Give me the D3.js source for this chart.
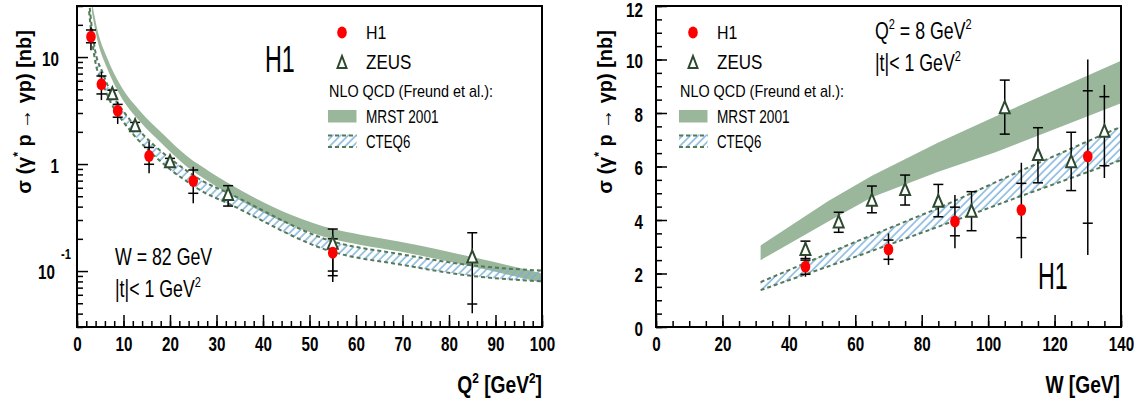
<!DOCTYPE html>
<html><head><meta charset="utf-8">
<script src="https://cdn.jsdelivr.net/npm/d3@7"></script>
<style>body{margin:0;background:#fff}svg{display:block}</style>
</head><body>
<script>
// ---------------- DATA ----------------
// Left panel: sigma vs Q^2 (W = 82 GeV)
const h1Q2      = [3, 5.25, 8.75, 15.5, 25, 55];
const h1SigQ    = [15.5, 5.56, 3.15, 1.19, 0.695, 0.148];
const h1StatHiQ = [17.9, 6.65, 3.61, 1.43, 0.88, 0.20];
const h1StatLoQ = [13.6, 4.52, 2.74, 0.995, 0.533, 0.10];
const h1TotHiQ  = [19.0, 7.29, 3.83, 1.62, 0.945, 0.215];
const h1TotLoQ  = [11.6, 3.96, 2.37, 0.82, 0.43, 0.079];

const zQ2       = [7.6, 12.5, 20, 32.5, 55, 85];
const zSigQ     = [4.48, 2.26, 1.04, 0.514, 0.18, 0.134];
const zStatHiQ  = [4.9, 2.45, 1.13, 0.628, 0.247, 0.228];
const zStatLoQ  = [4.1, 2.08, 0.96, 0.405, 0.0905, 0.0492];
const zTotHiQ   = [4.9, 2.45, 1.13, 0.628, 0.247, 0.228];
const zTotLoQ   = [4.1, 2.08, 0.96, 0.405, 0.0905, 0.0403];

const mrstQ2    = [3.2, 4.3, 6.5, 9.3, 13.6, 18.6, 23.7, 28.7, 32.5, 55, 61, 69.5, 85, 100];
const mrstHiQ   = [33.0, 18.7, 9.8, 5.5, 3.12, 1.89, 1.18, 0.84, 0.665, 0.248, 0.218, 0.188, 0.135, 0.095];
const mrstLoQ   = [26.5, 14.9, 7.8, 4.38, 2.48, 1.50, 0.94, 0.67, 0.53, 0.199, 0.175, 0.152, 0.110, 0.078];

const cteqQ2    = [2.6, 3.2, 3.94, 5.4, 7.2, 10, 12.9, 16.5, 20.8, 23.7, 26.5, 32.5, 55, 69.5, 85, 100];
const cteqHiQ   = [33.6, 18.7, 11.3, 7.34, 4.77, 3.10, 2.17, 1.51, 1.06, 0.86, 0.715, 0.537, 0.189, 0.144, 0.113, 0.101];
const cteqLoQ   = [26.8, 14.9, 9.0, 5.85, 3.80, 2.47, 1.73, 1.21, 0.84, 0.685, 0.570, 0.428, 0.151, 0.115, 0.090, 0.080];

// Right panel: sigma vs W (Q^2 = 8 GeV^2)
const h1W       = [45, 70, 90, 110, 130];
const h1SigW    = [2.25, 2.90, 3.94, 4.37, 6.37];
const h1StatHiW = [2.50, 3.25, 4.48, 5.37, 8.83];
const h1StatLoW = [1.97, 2.53, 3.41, 3.34, 3.88];
const h1TotHiW  = [2.53, 3.50, 4.93, 6.14, 10.0];
const h1TotLoW  = [1.88, 2.32, 2.94, 2.57, 2.69];

const zW        = [45, 55, 65, 75, 85, 95, 105, 115, 125, 135];
const zSigW     = [2.88, 3.91, 4.72, 5.12, 4.68, 4.31, 8.18, 6.43, 6.16, 7.30];
const zStatHiW  = [3.21, 4.29, 5.27, 5.68, 5.33, 5.06, 9.23, 7.45, 7.28, 8.61];
const zStatLoW  = [2.56, 3.54, 4.27, 4.56, 4.12, 3.60, 7.21, 5.39, 5.10, 6.03];
const zTotHiW   = [3.21, 4.29, 5.27, 5.68, 5.33, 5.06, 9.23, 7.45, 7.28, 9.05];
const zTotLoW   = [2.56, 3.54, 4.27, 4.56, 4.12, 3.60, 7.21, 5.39, 5.10, 5.57];

const mrstW     = [31.5, 52, 65, 85, 102, 140];
const mrstHiW   = [3.05, 4.72, 5.65, 6.9, 7.86, 9.95];
const mrstLoW   = [2.50, 3.95, 4.85, 5.8, 6.52, 8.36];

const cteqW     = [31.5, 60, 85, 110, 140];
const cteqHiW   = [1.68, 3.18, 4.44, 5.85, 7.49];
const cteqLoW   = [1.38, 2.62, 3.75, 4.90, 6.24];

// Ticks
const xTicksQ      = [0,10,20,30,40,50,60,70,80,90,100];
const xMinorQ      = d3.range(0, 101, 2);
const yTicksLog    = [0.1, 1, 10];
const yMinorLog    = [0.03,0.04,0.05,0.06,0.07,0.08,0.09,0.2,0.3,0.4,0.5,0.6,0.7,0.8,0.9,2,3,4,5,6,7,8,9,20,30];
const xTicksW      = [0,20,40,60,80,100,120,140];
const xMinorW      = d3.range(0, 141, 5);
const yTicksLin    = [0,2,4,6,8,10,12];
const yMinorLin    = d3.range(0, 12.01, 0.5);

// ---------------- STYLE ----------------
const FONT = "'Liberation Sans', Arial, Helvetica, sans-serif";
const C_MRST = "#9ab79b", C_EDGE = "#557a57", C_HATCH = "#78afdb", C_TRI = "#2c482e", C_DOT = "#ff0000";

const svg = d3.select("body").append("svg").attr("width",1141).attr("height",402);
const defs = svg.append("defs");
const pat = defs.append("pattern").attr("id","hatch").attr("patternUnits","userSpaceOnUse")
  .attr("width",5.5).attr("height",5.5).attr("patternTransform","rotate(45)");
pat.append("line").attr("x1",1).attr("y1",0).attr("x2",1).attr("y2",5.5)
  .attr("stroke",C_HATCH).attr("stroke-width",1.4);

function label(parent, x, y, parts, o) {
  const sx = o.sx || 1;
  const tr = `translate(${x},${y})` + (o.rot ? ` rotate(${o.rot})` : "") + ` scale(${sx},1)`;
  const t = parent.append("text").attr("transform", tr)
    .attr("font-family", FONT).attr("font-size", o.size)
    .attr("font-weight", o.weight || "normal")
    .attr("text-anchor", o.anchor || "start").attr("fill", "#000");
  let up = false;
  const sh = o.size * 0.42;
  parts.forEach(p => {
    const sup = Array.isArray(p);
    const s = t.append("tspan").text(sup ? p[0] : p);
    if (sup && !up) { s.attr("dy", -sh).attr("font-size", o.size * 0.62); up = true; }
    else if (!sup && up) { s.attr("dy", sh); up = false; }
  });
  return t;
}

function panel(cfg) {
  const {x, y, id} = cfg;
  const [x0, x1] = x.range(), [y0, y1] = y.range();
  const g = svg.append("g");
  defs.append("clipPath").attr("id", id).append("rect")
    .attr("x", x0).attr("y", y1).attr("width", x1 - x0).attr("height", y0 - y1);
  const pg = g.append("g").attr("clip-path", `url(#${id})`);

  // MRST band
  const bandM = cfg.mrst.x.map((v,i)=>({x:v, hi:cfg.mrst.hi[i], lo:cfg.mrst.lo[i]}));
  pg.append("path").datum(bandM).attr("fill", C_MRST)
    .attr("d", d3.area().x(d=>x(d.x)).y0(d=>y(d.lo)).y1(d=>y(d.hi)).curve(cfg.curve));
  // CTEQ band
  const bandC = cfg.cteq.x.map((v,i)=>({x:v, hi:cfg.cteq.hi[i], lo:cfg.cteq.lo[i]}));
  pg.append("path").datum(bandC).attr("fill", "url(#hatch)")
    .attr("d", d3.area().x(d=>x(d.x)).y0(d=>y(d.lo)).y1(d=>y(d.hi)).curve(cfg.curve));
  ["hi","lo"].forEach(k => pg.append("path").datum(bandC).attr("fill","none")
    .attr("stroke", C_EDGE).attr("stroke-width", 2).attr("stroke-dasharray","4,3")
    .attr("d", d3.line().x(d=>x(d.x)).y(d=>y(d[k])).curve(cfg.curve)));

  // error bars: line to total error, crossbars at statistical error
  function errs(set) {
    set.x.forEach((v,i) => {
      const px = x(v);
      pg.append("line").attr("x1",px).attr("x2",px)
        .attr("y1", y(set.totHi[i])).attr("y2", y(set.totLo[i]))
        .attr("stroke","#000").attr("stroke-width",1.5);
      [set.statHi[i], set.statLo[i]].forEach(e => {
        pg.append("line").attr("x1",px-5).attr("x2",px+5)
          .attr("y1", y(e)).attr("y2", y(e)).attr("stroke","#000").attr("stroke-width",1.5);
      });
    });
  }
  errs(cfg.zeus); errs(cfg.h1);
  // ZEUS triangles
  cfg.zeus.x.forEach((v,i) => {
    const px = x(v), py = y(cfg.zeus.y[i]);
    pg.append("path").attr("d", `M${px},${py-7} L${px+5},${py+5} L${px-5},${py+5} Z`)
      .attr("fill","#fff").attr("stroke", C_TRI).attr("stroke-width",2);
  });
  // H1 dots
  cfg.h1.x.forEach((v,i) => {
    pg.append("ellipse").attr("cx", x(v)).attr("cy", y(cfg.h1.y[i]))
      .attr("rx",4.8).attr("ry",6).attr("fill", C_DOT);
  });

  // axes
  const tickStyle = sel => { sel.select(".domain").remove();
    sel.selectAll(".tick line").attr("stroke","#000").attr("stroke-width",1.5); };
  const TS = 0.76, TF = 20;
  g.append("g").attr("transform",`translate(0,${y0})`)
    .call(d3.axisBottom(x).tickValues(cfg.xMinor).tickSize(-6).tickFormat("")).call(tickStyle);
  g.append("g").attr("transform",`translate(0,${y0})`)
    .call(d3.axisBottom(x).tickValues(cfg.xTicks).tickSize(-12).tickPadding(10).tickFormat(d3.format("d")))
    .call(tickStyle)
    .call(s => s.selectAll("text").attr("font-family",FONT).attr("font-size",TF)
      .attr("font-weight","bold").attr("fill","#000").attr("transform",`scale(${TS},1)`));
  g.append("g").attr("transform",`translate(${x0},0)`)
    .call(d3.axisLeft(y).tickValues(cfg.yMinor).tickSize(-6).tickFormat("")).call(tickStyle);
  g.append("g").attr("transform",`translate(${x0},0)`)
    .call(d3.axisLeft(y).tickValues(cfg.yTicks).tickSize(-11).tickFormat(cfg.yFmt))
    .call(tickStyle)
    .call(s => s.selectAll("text").attr("font-family",FONT).attr("font-size",TF)
      .attr("font-weight","bold").attr("fill","#000")
      .attr("x", -cfg.yLabPad / TS)
      .attr("dy", d => (y(d) - y1 < 8 ? "0.52em" : "0.4em"))
      .attr("transform",`scale(${TS},1)`));

  // frame
  g.append("rect").attr("x",x0).attr("y",y1).attr("width",x1-x0).attr("height",y0-y1)
    .attr("fill","none").attr("stroke","#000").attr("stroke-width",2);
  return g;
}

function legend(g, lx, tx) {
  g.append("ellipse").attr("cx",lx+14).attr("cy",32.5).attr("rx",4.8).attr("ry",6).attr("fill",C_DOT);
  label(g, tx, 39, ["H1"], {size:19, sx:0.84});
  const px = lx+14, py = 62;
  g.append("path").attr("d",`M${px},${py-6} L${px+4.5},${py+6} L${px-4.5},${py+6} Z`)
    .attr("fill","#fff").attr("stroke",C_TRI).attr("stroke-width",2);
  label(g, tx, 68.5, ["ZEUS"], {size:20, sx:0.85});
  label(g, lx+1, 96.5, ["NLO QCD (Freund et al.):"], {size:16, sx:0.9});
  g.append("rect").attr("x",lx).attr("y",110).attr("width",28.5).attr("height",12.5).attr("fill",C_MRST);
  label(g, tx, 122.5, ["MRST 2001"], {size:17.5, sx:0.78});
  g.append("rect").attr("x",lx).attr("y",134.5).attr("width",28.5).attr("height",13.5).attr("fill","url(#hatch)");
  [135.5, 147].forEach(yy => g.append("line").attr("x1",lx).attr("x2",lx+28.5).attr("y1",yy).attr("y2",yy)
    .attr("stroke",C_EDGE).attr("stroke-width",2).attr("stroke-dasharray","4,3"));
  label(g, tx, 148.3, ["CTEQ6"], {size:17.5, sx:0.76});
}

// ---------------- LEFT PANEL ----------------
const xL = d3.scaleLinear().domain([0,100]).range([77,542]);
const yL = d3.scaleLog().domain([0.03,30]).range([327,6]);
const gL = panel({
  id:"clipL", x:xL, y:yL, curve:d3.curveMonotoneX,
  mrst:{x:mrstQ2, hi:mrstHiQ, lo:mrstLoQ},
  cteq:{x:cteqQ2, hi:cteqHiQ, lo:cteqLoQ},
  h1:{x:h1Q2, y:h1SigQ, statHi:h1StatHiQ, statLo:h1StatLoQ, totHi:h1TotHiQ, totLo:h1TotLoQ},
  zeus:{x:zQ2, y:zSigQ, statHi:zStatHiQ, statLo:zStatLoQ, totHi:zTotHiQ, totLo:zTotLoQ},
  xTicks:xTicksQ, xMinor:xMinorQ, yTicks:yTicksLog, yMinor:yMinorLog,
  yFmt: d => d < 1 ? "" : d3.format("d")(d), yLabPad: 18
});
// 10^-1 label
label(gL, 55, yL(0.1) + 8, ["10"], {size:20, weight:"bold", sx:0.76, anchor:"end"});
label(gL, 61, yL(0.1) - 12, ["-1"], {size:14, weight:"bold", sx:0.8});
label(gL, 265, 72, ["H1"], {size:37, sx:0.63});
legend(gL, 328, 366);
label(gL, 115, 265, ["W = 82 GeV"], {size:24, sx:0.74});
label(gL, 115, 297, ["|t|< 1 GeV", ["2"]], {size:24, sx:0.74});
label(gL, 542, 393, ["Q", ["2"], " [GeV", ["2"], "]"], {size:24, weight:"bold", sx:0.8, anchor:"end"});
label(gL, 31, 112, ["σ (γ", ["*"], " p → γp)  [nb]"], {size:21, weight:"bold", sx:0.95, anchor:"middle", rot:-90});

// ---------------- RIGHT PANEL ----------------
const xR = d3.scaleLinear().domain([0,140]).range([656,1121]);
const yR = d3.scaleLinear().domain([0,12]).range([327,6]);
const gR = panel({
  id:"clipR", x:xR, y:yR, curve:d3.curveLinear,
  mrst:{x:mrstW, hi:mrstHiW, lo:mrstLoW},
  cteq:{x:cteqW, hi:cteqHiW, lo:cteqLoW},
  h1:{x:h1W, y:h1SigW, statHi:h1StatHiW, statLo:h1StatLoW, totHi:h1TotHiW, totLo:h1TotLoW},
  zeus:{x:zW, y:zSigW, statHi:zStatHiW, statLo:zStatLoW, totHi:zTotHiW, totLo:zTotLoW},
  xTicks:xTicksW, xMinor:xMinorW, yTicks:yTicksLin, yMinor:yMinorLin,
  yFmt: d3.format("d"), yLabPad: 13
});
legend(gR, 679, 717);
label(gR, 875, 39, ["Q", ["2"], " = 8 GeV", ["2"]], {size:24, sx:0.74});
label(gR, 875, 71, ["|t|< 1 GeV", ["2"]], {size:24, sx:0.74});
label(gR, 1038, 289, ["H1"], {size:37, sx:0.63});
label(gR, 1120, 393, ["W [GeV]"], {size:24, weight:"bold", sx:0.8, anchor:"end"});
label(gR, 612, 112, ["σ (γ", ["*"], " p → γp)  [nb]"], {size:21, weight:"bold", sx:0.95, anchor:"middle", rot:-90});
</script>
</body></html>
